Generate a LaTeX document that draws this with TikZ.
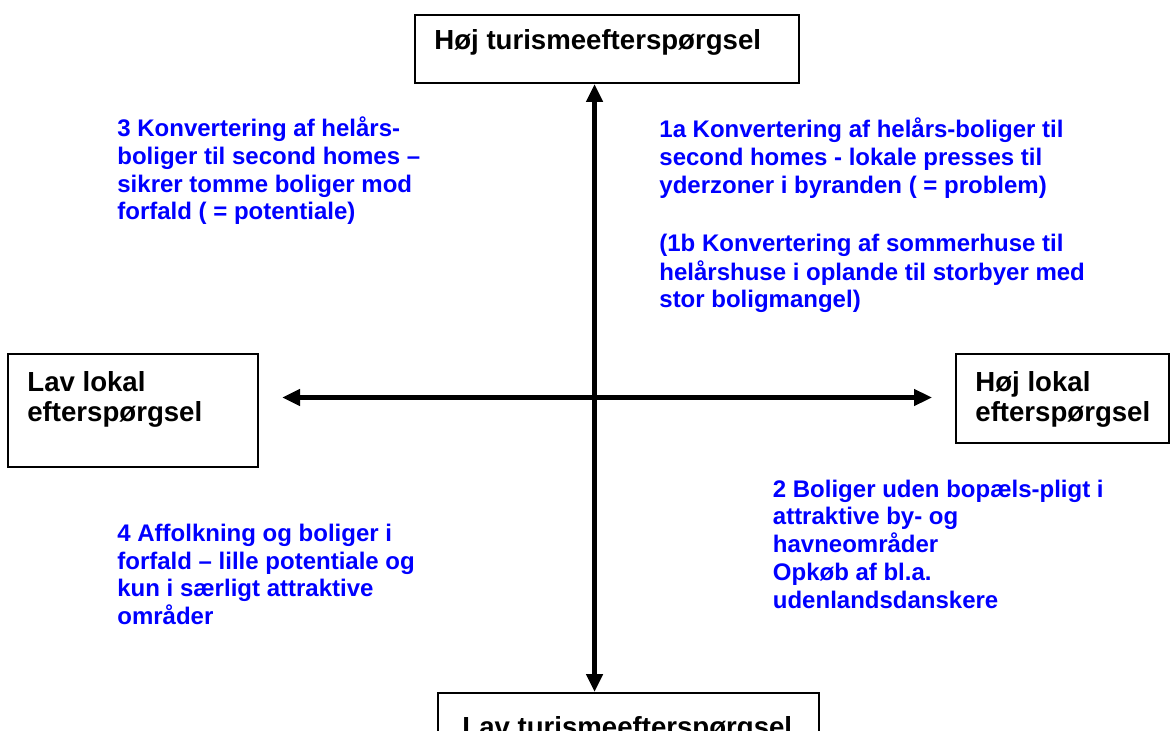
\documentclass[tikz,border=0pt]{standalone}
\usepackage{fontspec}
\setmainfont{Liberation Sans}
\usetikzlibrary{arrows.meta}
\newcommand{\mlines}[1]{\begin{tabular}[t]{@{}l@{}}#1\end{tabular}}
\begin{document}
\begin{tikzpicture}[x=0.5pt,y=-0.5pt,
  box/.style={draw, line width=1pt, inner sep=0pt, anchor=north west},
  bluetext/.style={anchor=base west, inner sep=0pt, text={rgb,255:red,0;green,0;blue,255}, font=\fontsize{12}{13.8}\selectfont\bfseries},
  blacktext/.style={anchor=base west, inner sep=0pt, font=\fontsize{13.8}{15}\selectfont\bfseries},
  axisline/.style={line width=2.6pt, {Triangle[length=9pt,width=8pt]}-{Triangle[length=9pt,width=8pt]}}
]
\clip (0,0) rectangle (1170,731);
\fill[white] (0,0) rectangle (1170,731);

% boxes
\node[box, minimum width=192pt, minimum height=34pt] (top) at (414,14) {};
\node[box, minimum width=125pt, minimum height=56.5pt] (left) at (7,353) {};
\node[box, minimum width=106.5pt, minimum height=44.5pt] (right) at (955,353) {};
\node[box, minimum width=190.5pt, minimum height=40pt] (bottom) at (437,692) {};

% box labels
\node[blacktext] (toptxt) at (434,50) {Høj turismeefterspørgsel};
\node[blacktext] (lefttxt) at (27,392) {\mlines{Lav lokal\\efterspørgsel}};
\node[blacktext] (righttxt) at (975,392) {\mlines{Høj lokal\\efterspørgsel}};
\node[blacktext] (bottomtxt) at (462,736) {Lav turismeefterspørgsel};

% axes
\coordinate (c) at (594.5,397.5);
\draw[axisline] (c |- top.south) -- (c |- bottom.north);
\draw[axisline, shorten <=11.5pt, shorten >=11.5pt] (left.east |- c) -- (right.west |- c);

% quadrant texts
\node[bluetext] (q3) at (117,137) {\mlines{3 Konvertering af helårs-\\boliger til second homes –\\sikrer tomme boliger mod\\forfald ( = potentiale)}};
\node[bluetext] (q1a) at (659,138) {\mlines{1a Konvertering af helårs-boliger til\\second homes - lokale presses til\\yderzoner i byranden ( = problem)}};
\node[bluetext] (q1b) at (659,252) {\mlines{(1b Konvertering af sommerhuse til\\helårshuse i oplande til storbyer med\\stor boligmangel)}};
\node[bluetext] (q4) at (117,541.5) {\mlines{4 Affolkning og boliger i\\forfald – lille potentiale og\\kun i særligt attraktive\\områder}};
\node[bluetext] (q2) at (772.5,497.3) {\mlines{2 Boliger uden bopæls-pligt i\\attraktive by- og\\havneområder\\Opkøb af bl.a.\\udenlandsdanskere}};
\end{tikzpicture}
\end{document}
